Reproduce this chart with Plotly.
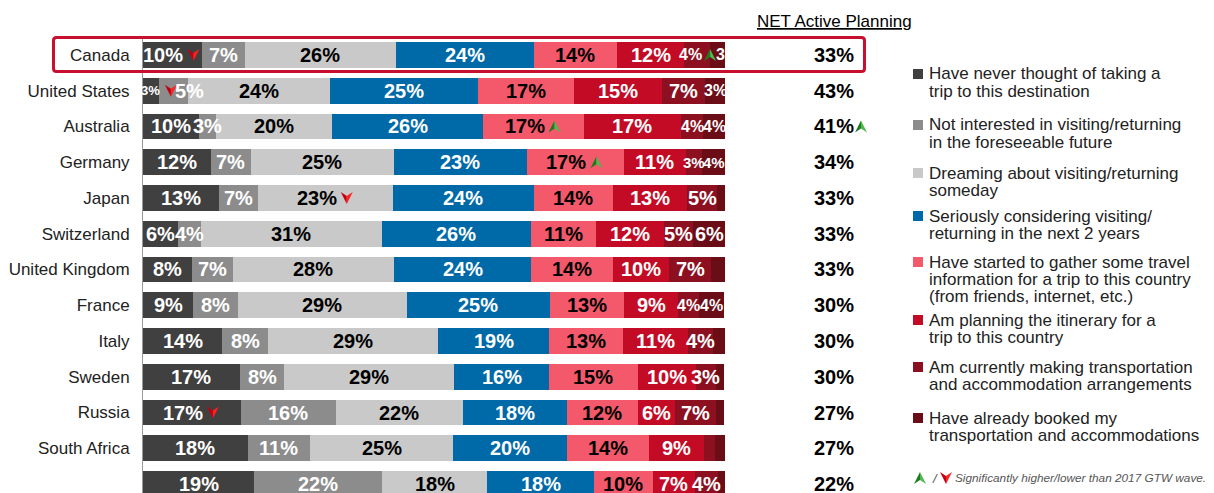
import plotly.graph_objects as go

countries = ["Canada", "United States", "Australia", "Germany", "Japan", "Switzerland",
             "United Kingdom", "France", "Italy", "Sweden", "Russia", "South Africa", "China"]

# shares per stage (%)
never = [10.1, 2.7, 9.6, 11.6, 13.1, 6.0, 8.4, 8.6, 13.6, 16.6, 16.8, 18.0, 19.1]
not_interested = [7.4, 5.0, 3.0, 6.9, 6.7, 4.0, 7.0, 7.7, 7.9, 7.7, 16.3, 10.7, 22.0]
dreaming = [25.9, 24.4, 19.8, 24.6, 23.2, 31.0, 27.7, 29.0, 29.2, 29.2, 21.8, 24.6, 18.0]
considering = [23.7, 25.4, 26.1, 22.9, 24.1, 25.6, 23.6, 24.6, 19.1, 16.2, 17.9, 19.6, 18.4]
gathering = [14.3, 16.6, 17.2, 16.6, 13.7, 11.2, 14.1, 12.7, 12.6, 15.3, 12.2, 14.1, 10.1]
planning = [11.6, 15.1, 16.8, 10.7, 12.7, 11.7, 9.6, 9.4, 11.3, 10.0, 6.4, 9.4, 7.2]
arranging = [4.4, 7.4, 3.8, 2.7, 5.2, 5.0, 7.2, 3.6, 4.3, 3.4, 7.0, 1.9, 4.0]
booked = [2.6, 3.4, 3.8, 4.1, 1.4, 5.6, 2.4, 4.3, 2.1, 1.5, 1.4, 1.7, 1.2]
net_active = [33, 43, 41, 34, 33, 33, 33, 30, 30, 30, 27, 27, 22]

series_names = [
    "Have never thought of taking a<br>trip to this destination",
    "Not interested in visiting/returning<br>in the foreseeable future",
    "Dreaming about visiting/returning<br>someday",
    "Seriously considering visiting/<br>returning in the next 2 years",
    "Have started to gather some travel<br>information for a trip to this country<br>(from friends, internet, etc.)",
    "Am planning the itinerary for a<br>trip to this country",
    "Am currently making transportation<br>and accommodation arrangements",
    "Have already booked my<br>transportation and accommodations",
]
series = [never, not_interested, dreaming, considering, gathering, planning, arranging, booked]

colors = ["#404040", "#8c8c8c", "#c9c9c9", "#006aa8", "#f4586b", "#c30b25", "#8c1020", "#6a0d17"]
text_colors = ["white", "white", "black", "white", "black", "white", "white", "white"]

# significance markers: (country, stage index, direction, label shift px, arrow shift px)
arrows = [("Canada", 0, "down", -9, 21), ("Canada", 6, "up", -7, 13),
          ("United States", 0, "down", 0, 20), ("Australia", 4, "up", -9, 21),
          ("Germany", 4, "up", -9, 21), ("Japan", 2, "down", -9, 21),
          ("Russia", 0, "down", -9, 21)]
net_arrows = [("Australia", "up", 27)]
label_nudge = {("United States", 1): 16, ("Canada", 7): 10}
label_size = {("Canada", 6): 16, ("Canada", 7): 16, ("United States", 0): 13,
              ("United States", 7): 16, ("Australia", 6): 16, ("Australia", 7): 16,
              ("Germany", 6): 15, ("Germany", 7): 15, ("France", 6): 16, ("France", 7): 16}

FONT = "Liberation Sans, Arial, sans-serif"
W, H = 1214, 493
L, R, T, B = 143, 489, 37, 0
PW, PH = W - L - R, H - T - B


def px_x(p):
    return (p - L) / PW


def px_y(p):
    return 1 - (p - T) / PH


def arrow(xref, x, yref, y, dx, up, dy=0):
    s = 1 if up else -1
    if up:
        fills = ["#1f7a1f", "#4fb84f"]
    else:
        fills = ["#c00010", "#ff2020"]
    out = []
    for side, fill in zip((-1, 1), fills):
        path = (f"M {dx},{dy + 6 * s} L {dx + 6 * side},{dy - 6 * s} "
                f"L {dx},{dy - 2 * s} Z")
        out.append(dict(type="path", xref=xref, yref=yref, xsizemode="pixel",
                        ysizemode="pixel", xanchor=x, yanchor=y, path=path,
                        fillcolor=fill, line=dict(width=0), layer="above"))
    return out


rows = list(range(len(countries)))
fig = go.Figure()
for name, vals, col in zip(series_names, series, colors):
    fig.add_trace(go.Bar(y=rows, x=vals, orientation="h", name=name.replace("<br>", " "),
                         marker=dict(color=col, line=dict(width=0)), width=0.72,
                         showlegend=False, hoverinfo="skip"))

annotations = []
shapes = []
arrow_lookup = {(c, k): (d, ls, asft) for c, k, d, ls, asft in arrows}
for r, c in enumerate(countries):
    start = 0
    for k, vals in enumerate(series):
        v = vals[r]
        mid = start + v / 2
        start += v
        shift = label_nudge.get((c, k), 0)
        if (c, k) in arrow_lookup:
            d, ls, asft = arrow_lookup[(c, k)]
            shift += ls
            shapes += arrow("x", mid, "y", r, asft, d == "up")
        if v < 2.5:
            continue
        annotations.append(dict(
            x=mid, y=r, xref="x", yref="y", text=f"<b>{v:.0f}%</b>", showarrow=False,
            xanchor="center", yanchor="middle", xshift=shift,
            font=dict(family=FONT, size=label_size.get((c, k), 20), color=text_colors[k])))
    annotations.append(dict(x=px_x(834), y=r, xref="paper", yref="y",
                            text=f"<b>{net_active[r]}%</b>", showarrow=False,
                            xanchor="center", yanchor="middle",
                            font=dict(family=FONT, size=20, color="black")))

for c, d, asft in net_arrows:
    shapes += arrow("paper", px_x(834), "y", countries.index(c), asft, d == "up")

annotations.append(dict(x=px_x(834.5), y=px_y(22), xref="paper", yref="paper",
                        text="NET Active Planning", showarrow=False,
                        xanchor="center", yanchor="middle",
                        font=dict(family=FONT, size=17, color="black", lineposition="under")))

# custom legend
legend_y = [74, 125, 173, 216, 262, 320, 367, 418]
for name, col, y0 in zip(series_names, colors, legend_y):
    shapes.append(dict(type="rect", xref="paper", yref="paper", x0=px_x(913), x1=px_x(923),
                       y0=px_y(y0 - 5), y1=px_y(y0 + 5), fillcolor=col, line=dict(width=0)))
    for i, line in enumerate(name.split("<br>")):
        annotations.append(dict(x=px_x(927), y=px_y(y0 + 17 * i), xref="paper", yref="paper",
                                text=line, showarrow=False, xanchor="left", yanchor="middle",
                                font=dict(family=FONT, size=17, color="#222222")))

# footnote
shapes += arrow("paper", px_x(920), "paper", px_y(478), 0, True)
shapes += arrow("paper", px_x(946), "paper", px_y(478), 0, False)
annotations.append(dict(x=px_x(930), y=px_y(478), xref="paper", yref="paper", text="<i>/</i>",
                        showarrow=False, xanchor="left", yanchor="middle",
                        font=dict(family=FONT, size=13, color="#555555")))
annotations.append(dict(x=px_x(953), y=px_y(478), xref="paper", yref="paper",
                        text="<i>Significantly higher/lower than 2017 GTW wave.</i>",
                        showarrow=False, xanchor="left", yanchor="middle",
                        font=dict(family=FONT, size=11.8, color="#555555")))

# highlight box around Canada
x0, x1, y0, y1, rad = 53.5, 864.5, 37.5, 71.5, 3
box = (f"M {px_x(x0 + rad)},{px_y(y0)} L {px_x(x1 - rad)},{px_y(y0)} "
       f"Q {px_x(x1)},{px_y(y0)} {px_x(x1)},{px_y(y0 + rad)} "
       f"L {px_x(x1)},{px_y(y1 - rad)} Q {px_x(x1)},{px_y(y1)} {px_x(x1 - rad)},{px_y(y1)} "
       f"L {px_x(x0 + rad)},{px_y(y1)} Q {px_x(x0)},{px_y(y1)} {px_x(x0)},{px_y(y1 - rad)} "
       f"L {px_x(x0)},{px_y(y0 + rad)} Q {px_x(x0)},{px_y(y0)} {px_x(x0 + rad)},{px_y(y0)} Z")
shapes.append(dict(type="path", xref="paper", yref="paper", path=box,
                   line=dict(color="#c8102e", width=3), layer="above"))

fig.update_layout(
    barmode="stack", width=W, height=H,
    margin=dict(l=L, r=R, t=T, b=B, pad=0),
    plot_bgcolor="white", paper_bgcolor="white",
    font=dict(family=FONT, size=17, color="#222222"),
    xaxis=dict(range=[0, 100], visible=False),
    yaxis=dict(range=[len(countries) - 0.75, -0.5], tickvals=rows, ticktext=countries,
               showline=True, linecolor="#9a9a9a", linewidth=1, showgrid=False,
               zeroline=False, ticks="", ticklabelstandoff=9),
    annotations=annotations, shapes=shapes,
)

fig.write_html("out.html", config={"displayModeBar": False},
               post_script="document.body.style.margin = '0';")
